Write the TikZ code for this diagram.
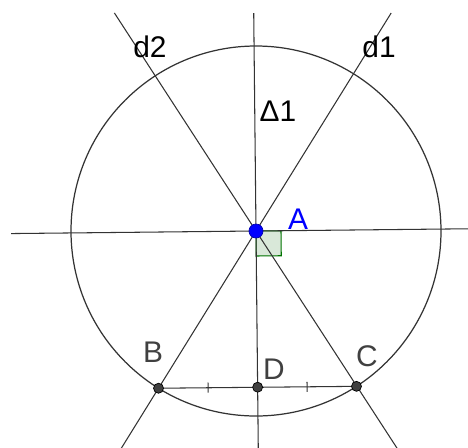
\documentclass[tikz,border=0pt]{standalone}
\usepackage{fontspec}
\setmainfont{Liberation Sans}
\usetikzlibrary{calc}

\begin{document}
\begin{tikzpicture}[font=\fontsize{17}{20}\selectfont,
  ln/.style={draw=black!80,line width=0.6pt},
  pt/.style={circle,fill=black!75,draw=black,inner sep=0pt,minimum size=2mm},
  lbl/.style={text=black!75,inner sep=0pt}]
\clip (-5.12,-4.32) rectangle (4.24,4.62);
% points
\coordinate (A) at (0,0);
\coordinate (B) at (238.2:3.7);
\coordinate (C) at (302.9:3.7);
\coordinate (D) at (270.6:3.124);
% line ends
\coordinate (hl) at (180.6:4.9);  \coordinate (hr) at (0.6:5);
\coordinate (vt) at (90.6:4.36);  \coordinate (vb) at (270.6:5);
\coordinate (d1t) at (58.2:5.13); \coordinate (d1b) at (238.2:5.6);
\coordinate (d2t) at (123:5.2);   \coordinate (d2b) at (303:5.6);
% right angle
\draw[draw=green!45!black,fill=green!40!black!15,line width=0.6pt]
  (A) -- (0.6:0.5) -- ++(270.6:0.5) -- (270.6:0.5) -- cycle;
\draw[ln,line width=0.7pt] (A) circle (3.7);
\foreach \p/\q in {hl/hr,vt/vb,d1t/d1b,d2t/d2b}{%
  \draw[ln] (\p) -- (\q);}
\draw[ln] (B) -- (C);
% ticks
\foreach \m in {0.5}{%
  \draw[ln] ($(B)!\m!(D)+(90.6:0.1)$) -- ($(B)!\m!(D)+(270.6:0.1)$);
  \draw[ln] ($(D)!\m!(C)+(90.6:0.1)$) -- ($(D)!\m!(C)+(270.6:0.1)$);}
\node[pt] (nB) at (B) {};
\node[pt] (nC) at (C) {};
\node[pt] (nD) at (D) {};
\node[circle,fill=blue,draw=blue!70!black,inner sep=0pt,minimum size=2.8mm] (nA) at (A) {};
% labels
\node[text=blue,inner sep=0pt] (tA) at (0.84,0.24) {A};
\node[lbl] (tB) at (-2.06,-2.42) {B};
\node[lbl] (tC) at (2.22,-2.5) {C};
\node[lbl] (tD) at (0.36,-2.76) {D};
\node[inner sep=0pt] (td1) at (2.46,3.68) {d1};
\node[inner sep=0pt] (td2) at (-2.12,3.68) {d2};
\node[inner sep=0pt] (tD1) at (0.44,2.4) {Δ1};
\end{tikzpicture}
\end{document}
